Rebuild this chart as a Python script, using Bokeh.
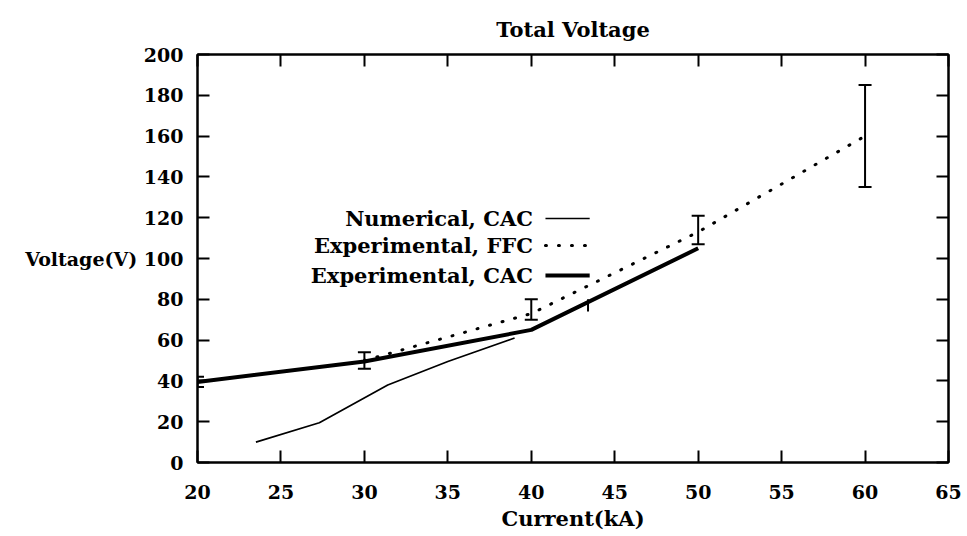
from bokeh.plotting import figure
from bokeh.models import (FixedTicker, LinearAxis, Label, Whisker, TeeHead,
                          ColumnDataSource, Range1d)
from bokeh.embed import file_html
from bokeh.resources import INLINE

# ---- data ----
num_cac_x = [23.5, 27.3, 31.4, 35.0, 39.0]
num_cac_y = [10.0, 19.5, 38.0, 49.5, 61.0]

exp_ffc_x = [30, 40, 50, 60]
exp_ffc_y = [50, 73, 113, 160]

exp_cac_x = [20, 30, 40, 50]
exp_cac_y = [39.5, 49.5, 65, 105]

err_x = [20, 30, 40, 50, 60]
err_lo = [37, 46, 70, 107, 135]
err_hi = [42, 54, 80, 121, 185]

bar_x = [43.4]
bar_lo = [74]
bar_hi = [80]

x_ticks = [20, 25, 30, 35, 40, 45, 50, 55, 60, 65]
y_ticks = [0, 20, 40, 60, 80, 100, 120, 140, 160, 180, 200]

y_label = "Voltage(V)"
y_label_tick = 100
legend_labels = ["Numerical, CAC", "Experimental, FFC", "Experimental, CAC"]

FONT = "DejaVu Serif"
FS = "21px"
TICK_FS = "19px"

p = figure(width=967, height=536, x_range=Range1d(20, 65), y_range=Range1d(0, 200),
           output_backend="svg", toolbar_location=None, title="Total Voltage")
p.min_border_left = 197
p.min_border_right = 19
p.min_border_top = 54
p.min_border_bottom = 74
p.background_fill_color = "white"
p.border_fill_color = "white"
p.outline_line_color = "black"
p.outline_line_width = 2
p.grid.visible = False

p.title.align = "center"
p.title.text_font = FONT
p.title.text_font_size = FS
p.title.text_font_style = "bold"
p.title.text_color = "black"
p.title.standoff = 26

def style_axis(ax, labels=True):
    ax.axis_line_color = "black"
    ax.axis_line_width = 2
    ax.major_tick_line_color = "black"
    ax.major_tick_line_width = 2
    ax.major_tick_in = 12
    ax.major_tick_out = 0
    ax.minor_tick_line_color = None
    ax.major_label_text_font = FONT
    ax.major_label_text_font_size = TICK_FS if labels else "1px"
    ax.major_label_text_font_style = "bold"
    ax.major_label_text_color = "black"

p.xaxis.ticker = FixedTicker(ticks=x_ticks)
p.yaxis.ticker = FixedTicker(ticks=y_ticks)
style_axis(p.xaxis[0])
style_axis(p.yaxis[0])
p.xaxis.major_label_standoff = 22
p.yaxis.major_label_standoff = 14
# horizontal y-axis title, set beside its tick value as in the reference
p.yaxis.major_label_overrides = {y_label_tick: f"{y_label} {y_label_tick}"}
p.xaxis.axis_label = "Current(kA)"
p.xaxis.axis_label_text_font = FONT
p.xaxis.axis_label_text_font_size = FS
p.xaxis.axis_label_text_font_style = "bold"
p.xaxis.axis_label_text_color = "black"
p.xaxis.axis_label_standoff = 4

top_ax = LinearAxis(ticker=FixedTicker(ticks=x_ticks))
style_axis(top_ax, labels=False)
top_ax.major_label_overrides = {t: "" for t in x_ticks}
top_ax.major_label_standoff = 0
p.add_layout(top_ax, "above")
right_ax = LinearAxis(ticker=FixedTicker(ticks=y_ticks))
style_axis(right_ax, labels=False)
right_ax.major_label_overrides = {t: "" for t in y_ticks}
right_ax.major_label_standoff = 0
p.add_layout(right_ax, "right")

# ---- series ----
p.line(num_cac_x, num_cac_y, line_color="black", line_width=1.7)
p.line(exp_ffc_x, exp_ffc_y, line_color="black", line_width=3, line_dash="1 12",
       line_cap="round")
p.line(exp_cac_x, exp_cac_y, line_color="black", line_width=4)

src = ColumnDataSource(dict(x=err_x, lo=err_lo, hi=err_hi))
p.add_layout(Whisker(source=src, base="x", lower="lo", upper="hi", dimension="height",
                     line_color="black", line_width=2,
                     lower_head=TeeHead(size=13, line_width=2, line_color="black"),
                     upper_head=TeeHead(size=13, line_width=2, line_color="black")))
p.segment(bar_x, bar_lo, bar_x, bar_hi, line_color="black", line_width=2)

# ---- legend (label left, sample right) ----
leg_x_text = 40.1
leg_x0, leg_x1 = 40.85, 43.5
leg_y = [119.6, 106.4, 91.7]
styles = [dict(line_width=1.7),
          dict(line_width=3, line_dash="1 12", line_cap="round"),
          dict(line_width=4)]
for lab, yy, st in zip(legend_labels, leg_y, styles):
    p.add_layout(Label(x=leg_x_text, y=yy, text=lab, text_align="right",
                       text_baseline="middle", text_font=FONT, text_font_size=FS,
                       text_font_style="bold", text_color="black"))
    p.line([leg_x0, leg_x1], [yy, yy], line_color="black", **st)

open("out.html", "w").write(file_html(p, INLINE))
